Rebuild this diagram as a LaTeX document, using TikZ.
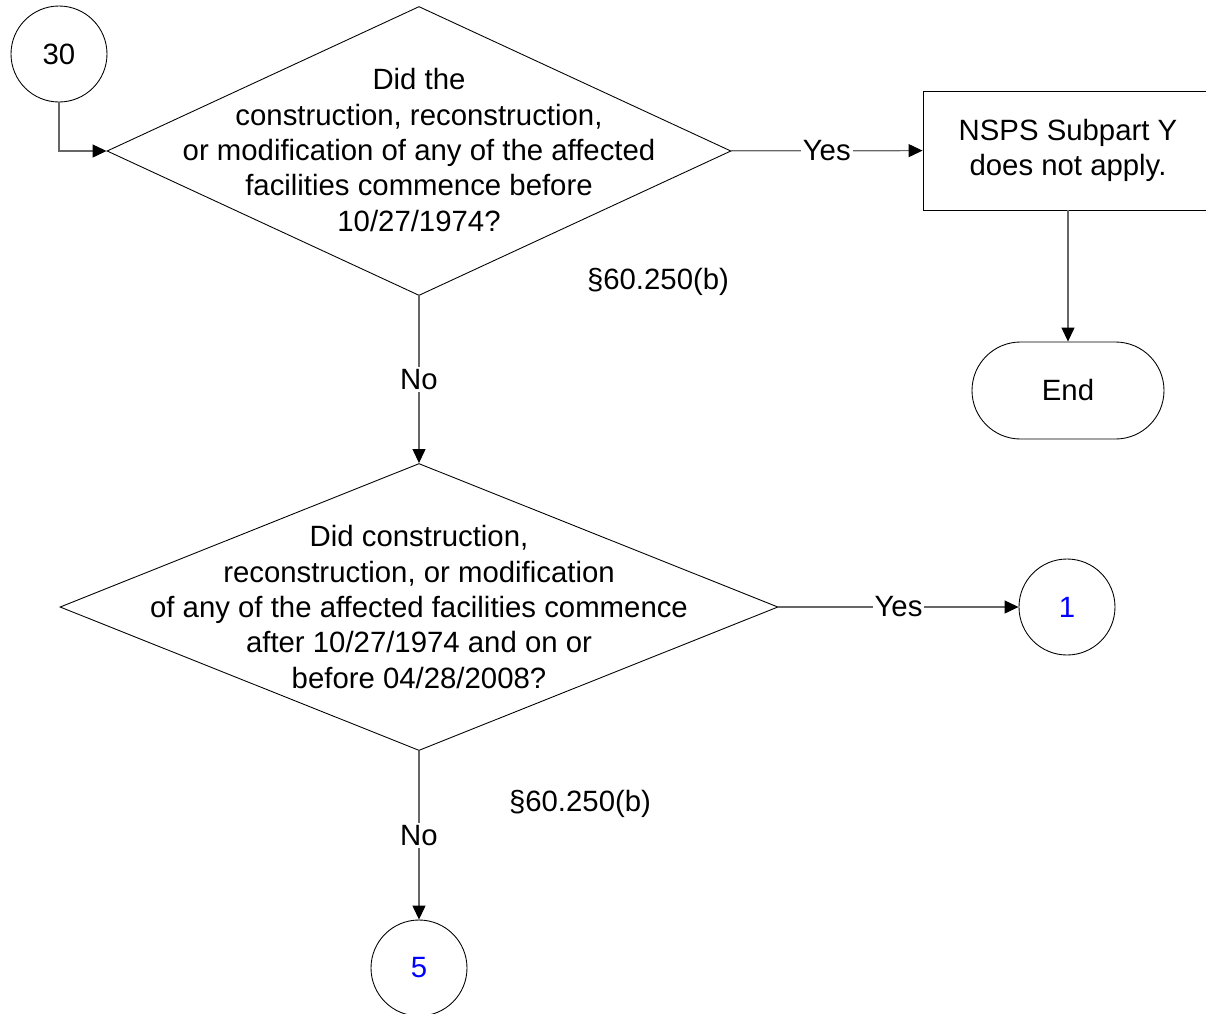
\documentclass[tikz,border=0pt]{standalone}
\usepackage{fontspec}
\setmainfont{Liberation Sans}
\usetikzlibrary{shapes.geometric,arrows.meta}

\begin{document}
\begin{tikzpicture}[x=0.2mm,y=-0.2mm,line width=0.5pt,
	every node/.style={font=\fontsize{16.7}{20.1}\selectfont},
	decision/.style={draw,diamond,inner sep=0pt},
	qtext/.style={align=center,inner sep=0pt},
	connector/.style={draw,circle,minimum size=19.2mm,inner sep=0pt},
	procbox/.style={draw,rectangle,align=center,minimum width=58mm,minimum height=23.8mm,inner sep=0pt},
	terminal/.style={draw,rectangle,rounded corners=9.7mm,minimum width=38.4mm,minimum height=19.4mm,inner sep=0pt},
	flow/.style={draw=gray!80!black,line width=0.7pt,-{Triangle[black,length=2.8mm,width=2.6mm]}},
	lbl/.style={fill=white,inner sep=0.4mm},
	pagelink/.style={text=blue}]
	\useasboundingbox (0,0) rectangle (1206,1014);
	
	% start connector and first question
	\node[connector] (c30) at (59,54) {30};
	\node[decision,minimum width=124.8mm,minimum height=57.8mm] (q1) at (419,151) {};
	\node[qtext] (q1txt) at (419,150) {Did the\\construction, reconstruction,\\or modification of any of the affected\\facilities commence before\\10/27/1974?};
	\node (ref1) at (658,282) {\S60.250(b)};
	
	\node[procbox] (nsps) at (1068,150.5) {NSPS Subpart Y\\does not apply.};
	\node[terminal] (end) at (1068,390.5) {End};
	
	% second question
	\node[decision,minimum width=143.6mm,minimum height=57.4mm] (q2) at (419,607) {};
	\node[qtext] (q2txt) at (419,607) {Did construction,\\reconstruction, or modification\\of any of the affected facilities commence\\after 10/27/1974 and on or\\before 04/28/2008?};
	\node (ref2) at (580,804) {\S60.250(b)};
	
	\node[connector,pagelink] (c1) at (1067,607) {1};
	\node[connector,pagelink] (c5) at (419,968) {5};
	
	% connectors
	\draw[flow] (c30) |- (q1);
	\draw[flow] (q1) -- node[lbl] {Yes} (nsps);
	\draw[flow] (nsps) -- (end);
	\draw[flow] (q1) -- node[lbl] {No} (q2);
	\draw[flow] (q2) -- node[lbl] {Yes} (c1);
	\draw[flow] (q2) -- node[lbl] {No} (c5);
\end{tikzpicture}
\end{document}
